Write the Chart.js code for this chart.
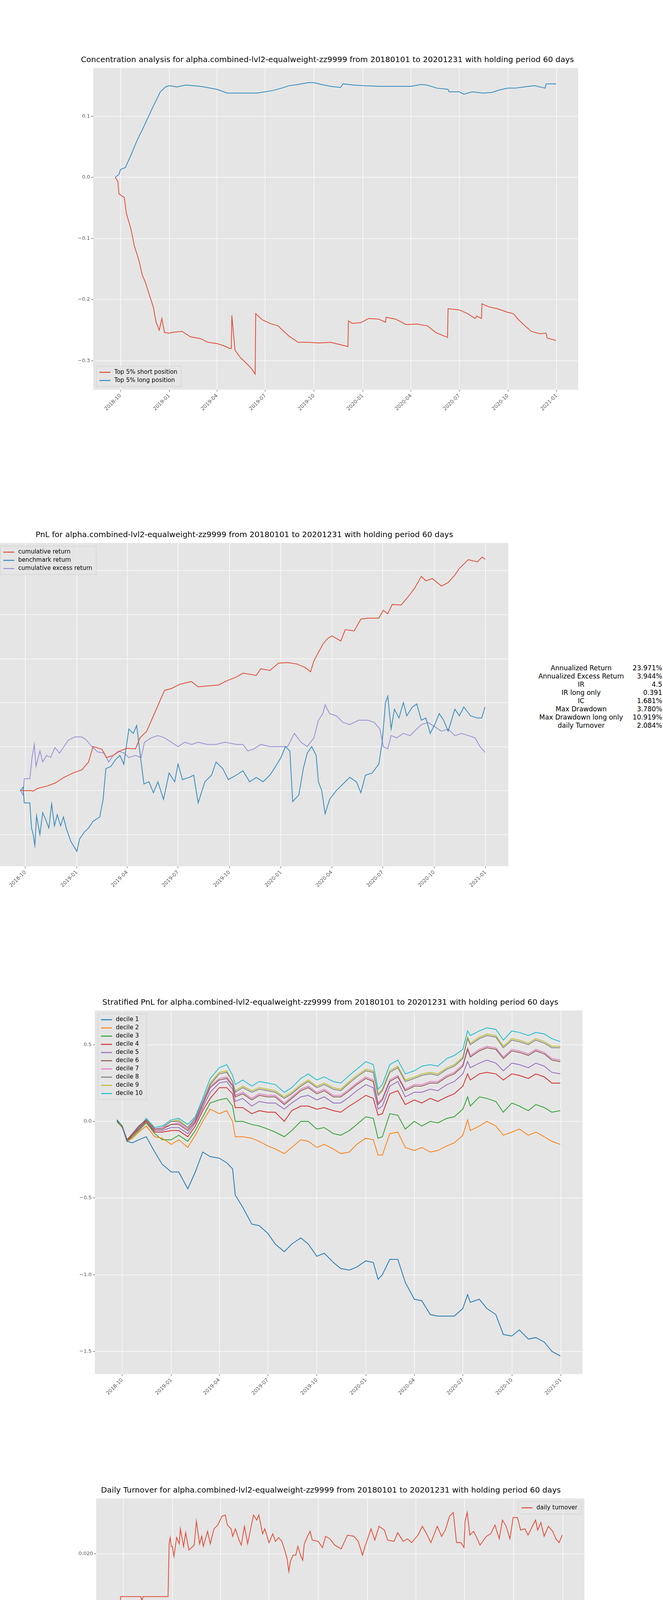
<!DOCTYPE html>
<html>
<head>
<meta charset="utf-8">
<script src="https://cdn.jsdelivr.net/npm/chart.js@4.4.1/dist/chart.umd.min.js"></script>
<style>
  body { margin: 0; background: #fff; width: 1697px; height: 4860px; position: relative; overflow: hidden; font-family: "DejaVu Sans", sans-serif; }
  .box { position: absolute; }
  #stats { position: absolute; left: 1365px; top: 1700px; font-size: 17px; border-collapse: collapse; white-space: nowrap; }
  #stats td { padding: 0 0 1px 0; line-height: 20px; }
  #stats td.l { text-align: center; width: 245px; }
  #stats td.v { text-align: right; width: 85px; }
</style>
</head>
<body>
<div class="box" style="left:196px;top:142px;width:1286px;height:916px"><canvas id="concChart"></canvas></div>
<div class="box" style="left:-50px;top:1358px;width:1353px;height:920px"><canvas id="pnlChart"></canvas></div>
<table id="stats"></table>
<div class="box" style="left:200px;top:2555px;width:1293px;height:1023px"><canvas id="decileChart"></canvas></div>
<div class="box" style="left:198px;top:3804px;width:1300px;height:914px"><canvas id="turnChart"></canvas></div>
<script>
const TITLE_TAIL = 'alpha.combined-lvl2-equalweight-zz9999 from 20180101 to 20201231 with holding period 60 days';
const xTickDates = ['2018-10-01','2019-01-01','2019-04-01','2019-07-01','2019-10-01','2020-01-01','2020-04-01','2020-07-01','2020-10-01','2021-01-01'];

// --- concentration analysis ---
const shortDates = ['2018-09-21','2018-09-26','2018-09-28','2018-10-08','2018-10-12','2018-10-21','2018-10-27','2018-11-05','2018-11-11','2018-11-17','2018-11-25','2018-12-02','2018-12-07','2018-12-13','2018-12-18','2018-12-20','2018-12-23','2019-01-01','2019-01-05','2019-01-25','2019-02-10','2019-03-01','2019-03-15','2019-04-01','2019-04-15','2019-04-25','2019-04-28','2019-04-29','2019-05-05','2019-05-15','2019-05-25','2019-06-05','2019-06-12','2019-06-13','2019-06-25','2019-07-10','2019-07-25','2019-08-05','2019-08-15','2019-09-01','2019-09-20','2019-10-10','2019-11-01','2019-11-20','2019-12-04','2019-12-05','2019-12-12','2019-12-28','2020-01-12','2020-01-31','2020-02-13','2020-02-14','2020-03-03','2020-03-23','2020-04-12','2020-05-02','2020-05-18','2020-06-09','2020-06-10','2020-07-01','2020-07-17','2020-07-31','2020-08-03','2020-08-12','2020-08-13','2020-08-26','2020-09-11','2020-10-01','2020-10-11','2020-10-21','2020-11-02','2020-11-14','2020-11-30','2020-12-12','2020-12-14','2020-12-31'];
const shortVals = [0,-0.007,-0.027,-0.033,-0.059,-0.086,-0.112,-0.137,-0.16,-0.172,-0.194,-0.213,-0.237,-0.25,-0.231,-0.241,-0.254,-0.255,-0.254,-0.252,-0.261,-0.264,-0.27,-0.272,-0.276,-0.28,-0.28,-0.226,-0.283,-0.295,-0.303,-0.313,-0.322,-0.223,-0.233,-0.239,-0.243,-0.252,-0.26,-0.27,-0.27,-0.271,-0.27,-0.274,-0.277,-0.235,-0.239,-0.238,-0.231,-0.232,-0.237,-0.229,-0.232,-0.241,-0.24,-0.243,-0.254,-0.262,-0.215,-0.217,-0.223,-0.231,-0.227,-0.231,-0.207,-0.212,-0.215,-0.221,-0.223,-0.233,-0.243,-0.252,-0.256,-0.255,-0.263,-0.267];
const longDates = ['2018-09-21','2018-09-28','2018-10-01','2018-10-10','2018-10-20','2018-11-01','2018-11-15','2018-12-01','2018-12-15','2018-12-25','2019-01-01','2019-01-15','2019-02-01','2019-03-01','2019-04-01','2019-04-20','2019-05-15','2019-06-15','2019-07-01','2019-07-15','2019-08-01','2019-08-15','2019-09-01','2019-09-20','2019-10-01','2019-10-15','2019-11-01','2019-11-20','2019-11-25','2019-12-15','2020-01-01','2020-02-01','2020-03-01','2020-04-01','2020-04-20','2020-05-01','2020-05-20','2020-06-10','2020-06-12','2020-07-01','2020-07-10','2020-07-25','2020-08-15','2020-09-01','2020-09-15','2020-10-01','2020-10-15','2020-11-01','2020-11-20','2020-12-10','2020-12-12','2020-12-31'];
const longVals = [0,0.005,0.013,0.016,0.035,0.06,0.085,0.115,0.14,0.148,0.15,0.148,0.151,0.149,0.144,0.138,0.138,0.138,0.14,0.142,0.146,0.15,0.152,0.155,0.155,0.152,0.149,0.147,0.153,0.151,0.15,0.149,0.149,0.149,0.152,0.151,0.146,0.144,0.14,0.14,0.136,0.14,0.138,0.139,0.143,0.146,0.146,0.148,0.15,0.146,0.153,0.153];
const concTicks = [-0.3,-0.2,-0.1,0,0.1];

// --- PnL ---
const cumDates = ['2018-09-22','2018-10-11','2018-10-15','2018-10-23','2018-11-08','2018-11-23','2018-12-09','2018-12-25','2019-01-10','2019-01-22','2019-01-30','2019-02-15','2019-02-23','2019-03-07','2019-03-19','2019-03-31','2019-04-16','2019-04-24','2019-05-06','2019-05-18','2019-05-30','2019-06-07','2019-06-19','2019-07-05','2019-07-25','2019-08-06','2019-08-22','2019-09-11','2019-09-27','2019-10-13','2019-10-25','2019-11-18','2019-11-26','2019-12-12','2019-12-28','2020-01-13','2020-01-29','2020-02-13','2020-02-23','2020-02-29','2020-03-16','2020-03-24','2020-04-01','2020-04-17','2020-04-25','2020-05-11','2020-05-23','2020-06-04','2020-06-24','2020-07-02','2020-07-10','2020-07-18','2020-08-03','2020-08-15','2020-08-27','2020-09-08','2020-09-16','2020-09-28','2020-10-14','2020-10-26','2020-11-07','2020-11-15','2020-12-01','2020-12-17','2020-12-26','2020-12-31'];
const cumVals = [0,0,-0.001,0.005,0.01,0.017,0.03,0.04,0.047,0.065,0.1,0.094,0.075,0.08,0.09,0.096,0.095,0.12,0.135,0.17,0.205,0.228,0.232,0.242,0.248,0.236,0.238,0.24,0.25,0.258,0.267,0.262,0.277,0.273,0.29,0.291,0.288,0.28,0.27,0.295,0.333,0.345,0.352,0.34,0.366,0.363,0.39,0.392,0.392,0.41,0.402,0.423,0.422,0.44,0.46,0.487,0.477,0.482,0.465,0.473,0.49,0.505,0.525,0.52,0.531,0.526];
const benchDates = ['2018-09-22','2018-09-27','2018-09-29','2018-10-09','2018-10-12','2018-10-15','2018-10-18','2018-10-21','2018-10-27','2018-11-01','2018-11-06','2018-11-12','2018-11-17','2018-11-22','2018-11-27','2018-12-03','2018-12-08','2018-12-13','2018-12-21','2019-01-01','2019-01-06','2019-01-14','2019-01-22','2019-01-30','2019-02-11','2019-02-17','2019-02-22','2019-03-03','2019-03-11','2019-03-19','2019-03-26','2019-04-04','2019-04-12','2019-04-18','2019-04-24','2019-05-01','2019-05-10','2019-05-18','2019-05-26','2019-06-05','2019-06-15','2019-06-25','2019-07-01','2019-07-09','2019-07-21','2019-07-29','2019-08-06','2019-08-18','2019-08-30','2019-09-07','2019-09-19','2019-09-29','2019-10-13','2019-10-25','2019-11-06','2019-11-18','2019-11-30','2019-12-12','2019-12-20','2020-01-01','2020-01-09','2020-01-17','2020-01-22','2020-02-02','2020-02-10','2020-02-17','2020-02-25','2020-03-04','2020-03-08','2020-03-14','2020-03-20','2020-03-28','2020-04-09','2020-04-21','2020-05-03','2020-05-15','2020-05-23','2020-05-31','2020-06-12','2020-06-24','2020-06-30','2020-07-06','2020-07-10','2020-07-16','2020-07-22','2020-07-30','2020-08-07','2020-08-13','2020-08-23','2020-08-31','2020-09-08','2020-09-16','2020-09-24','2020-10-02','2020-10-10','2020-10-18','2020-10-26','2020-11-07','2020-11-15','2020-11-23','2020-12-05','2020-12-17','2020-12-25','2020-12-31'];
const benchVals = [0,0.008,-0.028,-0.028,-0.085,-0.1,-0.125,-0.057,-0.1,-0.05,-0.065,-0.085,-0.03,-0.08,-0.055,-0.08,-0.06,-0.085,-0.115,-0.138,-0.11,-0.095,-0.085,-0.07,-0.06,-0.02,0.05,0.055,0.07,0.08,0.06,0.14,0.13,0.148,0.085,0.015,0.02,-0.005,0.02,-0.02,0.04,0.02,0.06,0.025,0.03,0.035,-0.028,0.02,0.035,0.065,0.05,0.025,0.035,0.045,0.02,0.03,0.02,0.035,0.05,0.075,0.1,0.09,-0.025,-0.01,0.05,0.085,0.1,0.08,0.02,0,-0.053,-0.02,0,0.015,0.03,0.02,-0.005,0.035,0.04,0.06,0.11,0.2,0.215,0.14,0.185,0.165,0.2,0.17,0.19,0.197,0.16,0.165,0.13,0.15,0.175,0.16,0.135,0.185,0.17,0.19,0.17,0.165,0.165,0.19];
const excessDates = ['2018-09-22','2018-09-27','2018-09-29','2018-10-09','2018-10-13','2018-10-17','2018-10-20','2018-10-27','2018-11-01','2018-11-08','2018-11-15','2018-11-23','2018-12-01','2018-12-09','2018-12-17','2018-12-29','2019-01-10','2019-01-18','2019-01-28','2019-02-07','2019-02-19','2019-02-27','2019-03-07','2019-03-17','2019-03-27','2019-04-04','2019-04-16','2019-04-26','2019-05-02','2019-05-14','2019-05-26','2019-06-07','2019-06-19','2019-07-01','2019-07-13','2019-07-25','2019-08-06','2019-08-22','2019-09-07','2019-09-23','2019-10-13','2019-10-25','2019-11-03','2019-11-14','2019-11-26','2019-12-12','2019-12-28','2020-01-13','2020-01-25','2020-02-06','2020-02-17','2020-02-29','2020-03-08','2020-03-16','2020-03-20','2020-03-28','2020-04-09','2020-04-21','2020-05-03','2020-05-19','2020-06-04','2020-06-16','2020-06-26','2020-07-02','2020-07-10','2020-07-16','2020-07-26','2020-08-07','2020-08-19','2020-08-31','2020-09-08','2020-09-20','2020-10-02','2020-10-14','2020-10-26','2020-11-07','2020-11-19','2020-12-01','2020-12-13','2020-12-22','2020-12-31'];
const excessVals = [0,-0.01,0.027,0.027,0.075,0.105,0.055,0.09,0.065,0.08,0.075,0.098,0.085,0.1,0.115,0.122,0.122,0.115,0.1,0.088,0.085,0.065,0.08,0.09,0.085,0.075,0.08,0.075,0.11,0.12,0.125,0.12,0.11,0.1,0.11,0.105,0.11,0.105,0.105,0.11,0.105,0.105,0.09,0.095,0.105,0.1,0.1,0.1,0.13,0.11,0.1,0.12,0.16,0.175,0.195,0.175,0.17,0.155,0.15,0.16,0.16,0.155,0.14,0.1,0.095,0.125,0.12,0.13,0.125,0.14,0.15,0.155,0.145,0.135,0.14,0.125,0.13,0.125,0.12,0.1,0.087];
const pnlTicks = [-0.1,0,0.1,0.2,0.3,0.4,0.5];
const statLabels = ['Annualized Return','Annualized Excess Return','IR','IR long only','IC','Max Drawdown','Max Drawdown long only','daily Turnover'];
const statValues = ['23.971%','3.944%','4.5','0.391','1.681%','3.780%','10.919%','2.084%'];

// --- stratified PnL ---
const decileDates = ['2018-09-21','2018-10-01','2018-10-10','2018-10-20','2018-11-01','2018-11-15','2018-12-01','2018-12-15','2019-01-01','2019-01-15','2019-02-01','2019-02-15','2019-03-01','2019-03-15','2019-04-01','2019-04-15','2019-04-26','2019-05-01','2019-05-15','2019-06-01','2019-06-15','2019-07-01','2019-07-15','2019-08-01','2019-08-15','2019-09-01','2019-09-15','2019-10-01','2019-10-15','2019-11-01','2019-11-15','2019-12-01','2019-12-15','2020-01-01','2020-01-15','2020-01-24','2020-02-01','2020-02-15','2020-03-01','2020-03-15','2020-04-01','2020-04-15','2020-05-01','2020-05-15','2020-06-01','2020-06-15','2020-07-01','2020-07-10','2020-07-15','2020-08-01','2020-08-15','2020-09-01','2020-09-15','2020-10-01','2020-10-15','2020-11-01','2020-11-15','2020-12-01','2020-12-15','2020-12-31'];
const decile1 = [0.01,-0.03,-0.13,-0.14,-0.12,-0.10,-0.20,-0.28,-0.33,-0.33,-0.44,-0.33,-0.20,-0.23,-0.24,-0.27,-0.31,-0.48,-0.56,-0.67,-0.68,-0.73,-0.80,-0.85,-0.80,-0.76,-0.80,-0.88,-0.86,-0.92,-0.96,-0.97,-0.95,-0.91,-0.92,-1.03,-1.00,-0.90,-0.90,-1.05,-1.16,-1.17,-1.26,-1.27,-1.27,-1.27,-1.22,-1.13,-1.18,-1.16,-1.22,-1.26,-1.39,-1.40,-1.36,-1.42,-1.41,-1.44,-1.50,-1.53];
const decile2 = [0.01,-0.04,-0.13,-0.11,-0.07,-0.03,-0.10,-0.11,-0.15,-0.12,-0.17,-0.09,0.00,0.08,0.05,0.07,0.00,-0.10,-0.10,-0.11,-0.13,-0.16,-0.18,-0.21,-0.17,-0.12,-0.13,-0.17,-0.15,-0.18,-0.21,-0.20,-0.15,-0.11,-0.12,-0.22,-0.22,-0.08,-0.07,-0.17,-0.19,-0.17,-0.20,-0.19,-0.16,-0.14,-0.09,0.01,-0.06,-0.03,0.00,-0.03,-0.09,-0.07,-0.05,-0.09,-0.07,-0.10,-0.13,-0.15];
const decile3 = [0.00,-0.04,-0.13,-0.10,-0.06,-0.01,-0.08,-0.12,-0.12,-0.09,-0.13,-0.06,0.03,0.12,0.14,0.15,0.10,0.00,0.00,-0.02,-0.03,-0.05,-0.07,-0.10,-0.06,0.00,0.00,-0.05,-0.04,-0.08,-0.09,-0.06,-0.02,0.03,0.02,-0.11,-0.10,0.05,0.04,-0.05,0.00,-0.03,0.00,-0.01,0.02,0.03,0.08,0.16,0.10,0.16,0.15,0.13,0.06,0.12,0.10,0.07,0.11,0.09,0.06,0.07];
const decile4 = [0.00,-0.04,-0.12,-0.09,-0.05,0.00,-0.07,-0.07,-0.06,-0.06,-0.10,-0.03,0.07,0.15,0.22,0.22,0.18,0.09,0.09,0.05,0.07,0.06,0.06,0.00,0.07,0.10,0.10,0.08,0.09,0.07,0.06,0.10,0.13,0.17,0.15,0.04,0.05,0.18,0.20,0.11,0.14,0.12,0.15,0.13,0.16,0.18,0.23,0.31,0.27,0.31,0.32,0.31,0.27,0.31,0.30,0.28,0.31,0.29,0.25,0.25];
const decile5 = [0.00,-0.04,-0.12,-0.09,-0.04,0.00,-0.06,-0.06,-0.04,-0.04,-0.08,-0.01,0.09,0.19,0.25,0.26,0.21,0.13,0.15,0.10,0.13,0.12,0.12,0.08,0.12,0.16,0.17,0.14,0.16,0.12,0.12,0.16,0.20,0.24,0.22,0.08,0.10,0.23,0.26,0.16,0.19,0.19,0.21,0.20,0.24,0.26,0.31,0.39,0.35,0.38,0.40,0.38,0.33,0.38,0.37,0.35,0.38,0.36,0.32,0.31];
const decile6 = [0.00,-0.04,-0.12,-0.08,-0.03,0.01,-0.05,-0.05,-0.02,-0.02,-0.06,0.00,0.11,0.22,0.27,0.28,0.23,0.16,0.18,0.14,0.17,0.16,0.16,0.11,0.15,0.20,0.22,0.18,0.20,0.16,0.16,0.20,0.24,0.28,0.26,0.11,0.14,0.26,0.29,0.20,0.23,0.23,0.25,0.25,0.29,0.31,0.36,0.47,0.42,0.46,0.48,0.47,0.41,0.46,0.45,0.43,0.46,0.44,0.40,0.39];
const decile7 = [0.00,-0.04,-0.12,-0.08,-0.03,0.01,-0.05,-0.04,-0.02,-0.01,-0.05,0.01,0.12,0.23,0.28,0.29,0.24,0.17,0.19,0.15,0.18,0.17,0.17,0.12,0.16,0.21,0.23,0.19,0.21,0.17,0.17,0.21,0.25,0.29,0.27,0.12,0.15,0.27,0.30,0.21,0.24,0.24,0.26,0.26,0.30,0.32,0.37,0.48,0.43,0.47,0.49,0.48,0.42,0.47,0.46,0.44,0.47,0.45,0.41,0.40];
const decile8 = [0.01,-0.04,-0.13,-0.09,-0.05,0.01,-0.05,-0.04,0.00,0.00,-0.04,0.02,0.13,0.24,0.31,0.32,0.26,0.19,0.22,0.19,0.21,0.20,0.19,0.15,0.18,0.23,0.26,0.22,0.24,0.21,0.20,0.25,0.29,0.33,0.32,0.17,0.20,0.32,0.35,0.26,0.28,0.30,0.31,0.30,0.34,0.36,0.41,0.54,0.50,0.54,0.56,0.55,0.48,0.53,0.52,0.50,0.53,0.51,0.48,0.48];
const decile9 = [0.01,-0.04,-0.13,-0.09,-0.05,0.01,-0.05,-0.04,0.00,0.01,-0.04,0.02,0.13,0.25,0.32,0.33,0.26,0.20,0.23,0.20,0.22,0.21,0.20,0.16,0.19,0.24,0.27,0.23,0.25,0.22,0.21,0.26,0.30,0.34,0.33,0.18,0.21,0.33,0.36,0.27,0.29,0.31,0.32,0.31,0.35,0.37,0.42,0.55,0.51,0.55,0.57,0.56,0.49,0.54,0.53,0.51,0.54,0.52,0.49,0.49];
const decile10 = [0.01,-0.03,-0.12,-0.08,-0.04,0.02,-0.04,-0.03,0.01,0.02,-0.02,0.03,0.15,0.28,0.35,0.37,0.30,0.24,0.27,0.23,0.26,0.25,0.24,0.19,0.22,0.28,0.31,0.27,0.29,0.26,0.25,0.30,0.34,0.39,0.37,0.21,0.24,0.37,0.40,0.31,0.33,0.36,0.37,0.36,0.41,0.43,0.47,0.59,0.56,0.59,0.61,0.60,0.53,0.59,0.58,0.56,0.58,0.57,0.54,0.52];
const decileTicks = [-1.5,-1.0,-0.5,0,0.5];

// --- turnover ---
const turnDates = ['2018-09-22','2018-09-26','2018-10-01','2018-11-03','2018-11-05','2018-11-07','2018-12-24','2018-12-26','2018-12-28','2018-12-30','2019-01-01','2019-01-04','2019-01-09','2019-01-14','2019-01-16','2019-01-22','2019-01-26','2019-02-01','2019-02-11','2019-02-15','2019-02-21','2019-02-25','2019-02-28','2019-03-08','2019-03-13','2019-03-20','2019-03-27','2019-04-04','2019-04-10','2019-04-14','2019-04-21','2019-04-24','2019-04-29','2019-05-06','2019-05-10','2019-05-16','2019-05-22','2019-05-30','2019-06-02','2019-06-08','2019-06-12','2019-06-19','2019-06-23','2019-07-01','2019-07-08','2019-07-13','2019-07-19','2019-07-25','2019-07-31','2019-08-04','2019-08-07','2019-08-10','2019-08-15','2019-08-20','2019-08-24','2019-08-29','2019-09-02','2019-09-05','2019-09-11','2019-09-16','2019-09-20','2019-10-01','2019-10-09','2019-10-15','2019-10-23','2019-11-01','2019-11-13','2019-11-25','2019-12-07','2019-12-15','2019-12-23','2019-12-27','2020-01-08','2020-01-15','2020-01-23','2020-02-02','2020-02-08','2020-02-20','2020-02-27','2020-03-08','2020-03-16','2020-03-24','2020-04-05','2020-04-13','2020-04-21','2020-04-29','2020-05-11','2020-05-19','2020-05-26','2020-06-03','2020-06-10','2020-06-16','2020-06-24','2020-06-30','2020-07-02','2020-07-06','2020-07-11','2020-07-18','2020-07-26','2020-07-30','2020-08-11','2020-08-19','2020-08-27','2020-09-04','2020-09-10','2020-09-17','2020-09-24','2020-09-30','2020-10-08','2020-10-14','2020-10-22','2020-10-28','2020-11-05','2020-11-11','2020-11-15','2020-11-21','2020-11-27','2020-12-05','2020-12-13','2020-12-19','2020-12-25','2020-12-31'];
const turnVals = [0,0.0166,0.0166,0.0166,0.0162,0.0166,0.0166,0.0208,0.0213,0.0206,0.0206,0.0198,0.0213,0.0208,0.022,0.0206,0.0217,0.0203,0.0207,0.0226,0.0208,0.0214,0.0206,0.0218,0.0208,0.022,0.0223,0.023,0.0231,0.0223,0.022,0.0214,0.022,0.0211,0.0207,0.0222,0.0208,0.0225,0.0231,0.0227,0.0231,0.0216,0.022,0.0209,0.0216,0.021,0.0213,0.021,0.0202,0.0196,0.0186,0.0194,0.0199,0.0199,0.0206,0.0199,0.0195,0.0208,0.0214,0.0218,0.0211,0.021,0.0205,0.0214,0.0212,0.0207,0.0204,0.0215,0.0214,0.021,0.0199,0.0205,0.022,0.0211,0.0222,0.0219,0.0211,0.021,0.0217,0.021,0.0212,0.0209,0.0215,0.0222,0.0216,0.0209,0.0222,0.0214,0.0219,0.023,0.0233,0.0209,0.0209,0.0205,0.0226,0.0233,0.0215,0.0218,0.0211,0.0207,0.0214,0.0216,0.0223,0.0212,0.0227,0.0222,0.0212,0.0229,0.0229,0.0219,0.022,0.0215,0.0222,0.0227,0.0219,0.0225,0.0214,0.0222,0.0218,0.0212,0.0209,0.0215];
const turnTicks = [0,0.005,0.010,0.015,0.020];

const FONT = '"DejaVu Sans", sans-serif';
const toPts = (dates, vals) => dates.map((d, i) => ({ x: Date.parse(d), y: vals[i] }));
const xTickMs = xTickDates.map(d => Date.parse(d));

const ggPlugin = {
  id: 'gg',
  beforeDraw(c) {
    const a = c.chartArea, ctx = c.ctx;
    ctx.save();
    ctx.fillStyle = '#E5E5E5';
    ctx.fillRect(a.left, a.top, a.width, a.height);
    ctx.restore();
  },
  afterDatasetsDraw(c, args, opts) {
    if (!opts.pos) return;
    const ctx = c.ctx, a = c.chartArea, ds = c.data.datasets;
    const rowH = opts.rowH || 21, fs = opts.fs || 15;
    ctx.save();
    ctx.font = fs + 'px ' + FONT;
    let w = 0;
    ds.forEach(d => { w = Math.max(w, ctx.measureText(d.label).width); });
    const bw = w + 56, bh = ds.length * rowH + 10;
    let bx = a.left + 8, by = a.top + 8;
    if (opts.pos === 'lower left') by = a.bottom - bh - 8;
    if (opts.pos === 'upper right') bx = a.right - bw - 8;
    ctx.fillStyle = 'rgba(229,229,229,0.8)';
    ctx.strokeStyle = '#CCCCCC';
    ctx.lineWidth = 1;
    ctx.beginPath(); ctx.rect(bx, by, bw, bh); ctx.fill(); ctx.stroke();
    ds.forEach((d, i) => {
      const cy = by + 5 + rowH * i + rowH / 2;
      ctx.strokeStyle = d.borderColor; ctx.lineWidth = 2.5;
      ctx.beginPath(); ctx.moveTo(bx + 8, cy); ctx.lineTo(bx + 36, cy); ctx.stroke();
      ctx.fillStyle = '#000'; ctx.textBaseline = 'middle';
      ctx.fillText(d.label, bx + 46, cy);
    });
    ctx.restore();
  }
};

function fmtDate(ms) {
  const d = new Date(ms);
  return d.getUTCFullYear() + '-' + String(d.getUTCMonth() + 1).padStart(2, '0');
}

function makeChart(id, title, datasets, yMin, yMax, yTicks, yDigits, legendPos) {
  let lo = Infinity, hi = -Infinity;
  datasets.forEach(d => d.data.forEach(p => { lo = Math.min(lo, p.x); hi = Math.max(hi, p.x); }));
  const pad = (hi - lo) * 0.05;
  return new Chart(document.getElementById(id), {
    type: 'line',
    data: { datasets: datasets.map(d => Object.assign({ borderWidth: 2, pointRadius: 0, tension: 0, fill: false }, d)) },
    options: {
      responsive: true, maintainAspectRatio: false, animation: false,
      layout: { padding: { right: 2 } },
      plugins: {
        legend: { display: false },
        tooltip: { enabled: false },
        title: { display: true, text: title, color: '#000', font: { family: FONT, size: 20, weight: 'normal' }, padding: { top: 0, bottom: 8 } },
        gg: { pos: legendPos, rowH: legendPos === 'upper right' ? 22 : 21 }
      },
      scales: {
        x: {
          type: 'linear', min: lo - pad, max: hi + pad,
          afterBuildTicks: ax => { ax.ticks = xTickMs.map(v => ({ value: v })); },
          ticks: { callback: v => fmtDate(v), color: '#555', font: { family: FONT, size: 13 }, minRotation: 45, maxRotation: 45, autoSkip: false },
          grid: { color: '#FFFFFF', lineWidth: 1.2, tickColor: '#555', tickLength: 5 },
          border: { display: false }
        },
        y: {
          min: yMin, max: yMax,
          afterBuildTicks: ax => { ax.ticks = yTicks.map(v => ({ value: v })); },
          ticks: { callback: v => v.toFixed(yDigits).replace('-', '\u2212'), color: '#555', font: { family: FONT, size: 13 } },
          grid: { color: '#FFFFFF', lineWidth: 1.2, tickColor: '#555', tickLength: 5 },
          border: { display: false }
        }
      }
    },
    plugins: [ggPlugin]
  });
}

document.addEventListener('DOMContentLoaded', function() {
  makeChart('concChart', 'Concentration analysis for ' + TITLE_TAIL, [
    { label: 'Top 5% short position', borderColor: '#E24A33', data: toPts(shortDates, shortVals) },
    { label: 'Top 5% long position', borderColor: '#348ABD', data: toPts(longDates, longVals) }
  ], -0.3475, 0.179, concTicks, 1, 'lower left');

  makeChart('pnlChart', 'PnL for ' + TITLE_TAIL, [
    { label: 'cumulative return', borderColor: '#E24A33', data: toPts(cumDates, cumVals) },
    { label: 'benchmark return', borderColor: '#348ABD', data: toPts(benchDates, benchVals) },
    { label: 'cumulative excess return', borderColor: '#988ED5', data: toPts(excessDates, excessVals) }
  ], -0.172, 0.563, pnlTicks, 1, 'upper left');

  const stats = document.getElementById('stats');
  statLabels.forEach((l, i) => {
    const tr = document.createElement('tr');
    tr.innerHTML = '<td class="l"></td><td class="v"></td>';
    tr.children[0].textContent = l;
    tr.children[1].textContent = statValues[i];
    stats.appendChild(tr);
  });

  const decColors = ['#1f77b4','#ff7f0e','#2ca02c','#d62728','#9467bd','#8c564b','#e377c2','#7f7f7f','#bcbd22','#17becf'];
  const deciles = [decile1, decile2, decile3, decile4, decile5, decile6, decile7, decile8, decile9, decile10];
  makeChart('decileChart', 'Stratified PnL for ' + TITLE_TAIL,
    deciles.map((v, i) => ({ label: 'decile ' + (i + 1), borderColor: decColors[i], data: toPts(decileDates, v) })),
    -1.648, 0.723, decileTicks, 1, 'upper left');

  makeChart('turnChart', 'Daily Turnover for ' + TITLE_TAIL, [
    { label: 'daily turnover', borderColor: '#E24A33', data: toPts(turnDates, turnVals) }
  ], -0.00116, 0.02442, turnTicks, 3, 'upper right');
});
</script>
</body>
</html>
